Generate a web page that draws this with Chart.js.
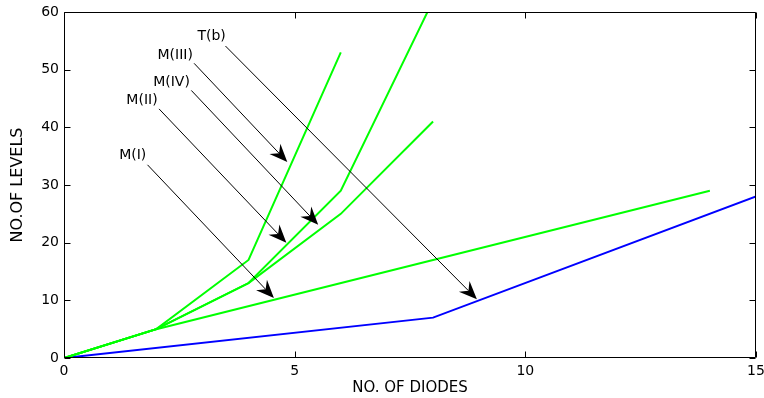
<!DOCTYPE html>
<html>
<head>
<meta charset="utf-8">
<script src="https://cdn.jsdelivr.net/npm/chart.js@4/dist/chart.umd.min.js"></script>
<style>
html,body{margin:0;padding:0;background:#fff;}
canvas{display:block;}
</style>
</head>
<body>
<canvas id="c" width="764" height="398"></canvas>
<script>
// ---- data ----
const xTicks = [0, 5, 10, 15];
const yTicks = [0, 10, 20, 30, 40, 50, 60];

const diodesTb   = [0, 8, 15];
const levelsTb   = [0, 7, 28];
const diodesMI   = [0, 2, 14];
const levelsMI   = [0, 5, 29];
const diodesMII  = [0, 2, 4, 6, 8];
const levelsMII  = [0, 5, 13, 25, 41];
const diodesMIII = [0, 2, 4, 6];
const levelsMIII = [0, 5, 17, 53];
const diodesMIV  = [0, 2, 4, 6, 8];
const levelsMIV  = [0, 5, 13, 29, 62];

// annotation labels (data units): label centre, arrow start, arrow tip
const annLabels = ['T(b)', 'M(III)', 'M(IV)', 'M(II)', 'M(I)'];
const annTextX  = [3.20, 2.41, 2.33, 1.69, 1.49];
const annTextY  = [55.7, 52.5, 47.8, 44.6, 35.2];
const annFromX  = [3.50, 2.82, 2.76, 2.06, 1.81];
const annFromY  = [54.1, 51.1, 46.4, 43.2, 33.5];
const annToX    = [8.95, 4.84, 5.51, 4.82, 4.55];
const annToY    = [10.2, 34.0, 23.1, 20.0, 10.4];

const pts = (xs, ys) => xs.map((x, i) => ({x: x, y: ys[i]}));

const FONT = 'DejaVu Sans';

const framePlugin = {
  id: 'frame',
  afterDraw(chart) {
    const ctx = chart.ctx, a = chart.chartArea;
    const xs = chart.scales.x, ys = chart.scales.y;
    ctx.save();
    ctx.strokeStyle = '#000';
    ctx.lineWidth = 1;
    const L = Math.round(a.left) + 0.5, R = Math.round(a.right) - 0.5;
    const T = Math.round(a.top) + 0.5, B = Math.round(a.bottom) - 0.5;
    ctx.beginPath();
    ctx.rect(L, T, R - L, B - T);
    // inward ticks
    const tl = 6;
    xTicks.forEach(v => {
      const px = Math.round(xs.getPixelForValue(v)) + 0.5;
      ctx.moveTo(px, B); ctx.lineTo(px, B - tl);
      ctx.moveTo(px, T); ctx.lineTo(px, T + tl);
    });
    yTicks.forEach(v => {
      const py = Math.round(ys.getPixelForValue(v)) + 0.5;
      ctx.moveTo(L, py); ctx.lineTo(L + tl, py);
      ctx.moveTo(R, py); ctx.lineTo(R - tl, py);
    });
    ctx.stroke();
    ctx.restore();
  }
};

const arrowPlugin = {
  id: 'arrows',
  afterDatasetsDraw(chart) {
    const ctx = chart.ctx;
    const xs = chart.scales.x, ys = chart.scales.y;
    ctx.save();
    ctx.strokeStyle = '#000';
    ctx.fillStyle = '#000';
    ctx.lineWidth = 1;
    ctx.font = '14px "' + FONT + '"';
    ctx.textAlign = 'center';
    ctx.textBaseline = 'middle';
    annLabels.forEach((lab, i) => {
      const x0 = xs.getPixelForValue(annFromX[i]), y0 = ys.getPixelForValue(annFromY[i]);
      const x1 = xs.getPixelForValue(annToX[i]),   y1 = ys.getPixelForValue(annToY[i]);
      const ang = Math.atan2(y1 - y0, x1 - x0);
      const len = 18, half = 7.5, notch = 12;
      const ca = Math.cos(ang), sa = Math.sin(ang);
      ctx.beginPath();
      ctx.moveTo(x0, y0);
      ctx.lineTo(x1 - ca * notch, y1 - sa * notch);
      ctx.stroke();
      const bx = x1 - ca * len, by = y1 - sa * len;
      ctx.beginPath();
      ctx.moveTo(x1, y1);
      ctx.lineTo(bx - sa * half, by + ca * half);
      ctx.lineTo(x1 - ca * notch, y1 - sa * notch);
      ctx.lineTo(bx + sa * half, by - ca * half);
      ctx.closePath();
      ctx.fill();
      ctx.fillText(lab, xs.getPixelForValue(annTextX[i]), ys.getPixelForValue(annTextY[i]));
    });
    ctx.restore();
  }
};

const green = '#00ff00', blue = '#0000ff';
const ds = (label, data, color) => ({
  label: label, data: data, borderColor: color, backgroundColor: color,
  borderWidth: 2, pointRadius: 0, fill: false, tension: 0
});

new Chart(document.getElementById('c'), {
  type: 'line',
  data: {
    datasets: [
      ds('M(I)', pts(diodesMI, levelsMI), green),
      ds('M(II)', pts(diodesMII, levelsMII), green),
      ds('M(III)', pts(diodesMIII, levelsMIII), green),
      ds('M(IV)', pts(diodesMIV, levelsMIV), green),
      ds('T(b)', pts(diodesTb, levelsTb), blue)
    ]
  },
  options: {
    responsive: false,
    animation: false,
    devicePixelRatio: 1,
    layout: {padding: {top: 12, right: 8, left: 0, bottom: 0}},
    plugins: {legend: {display: false}, tooltip: {enabled: false}},
    scales: {
      x: {
        type: 'linear', min: 0, max: 15,
        afterBuildTicks: s => { s.ticks = xTicks.map(v => ({value: v})); },
        afterFit: s => { s.height = 40; s.paddingLeft = 0; s.paddingRight = 0; },
        grid: {display: false, drawTicks: false},
        border: {display: false},
        ticks: {color: '#000', font: {family: FONT, size: 14}, padding: 5, maxRotation: 0},
        title: {display: true, text: 'NO. OF DIODES', color: '#000',
                font: {family: FONT, size: 15}, padding: {top: 0, bottom: 1}}
      },
      y: {
        type: 'linear', min: 0, max: 60,
        afterBuildTicks: s => { s.ticks = yTicks.map(v => ({value: v})); },
        afterFit: s => { s.width = 64; s.paddingTop = 0; s.paddingBottom = 0; },
        grid: {display: false, drawTicks: false},
        border: {display: false},
        ticks: {color: '#000', font: {family: FONT, size: 14}, padding: 5},
        title: {display: true, text: 'NO.OF LEVELS', color: '#000',
                font: {family: FONT, size: 16}, padding: {top: 8, bottom: 0}}
      }
    }
  },
  plugins: [framePlugin, arrowPlugin]
});
</script>
</body>
</html>
